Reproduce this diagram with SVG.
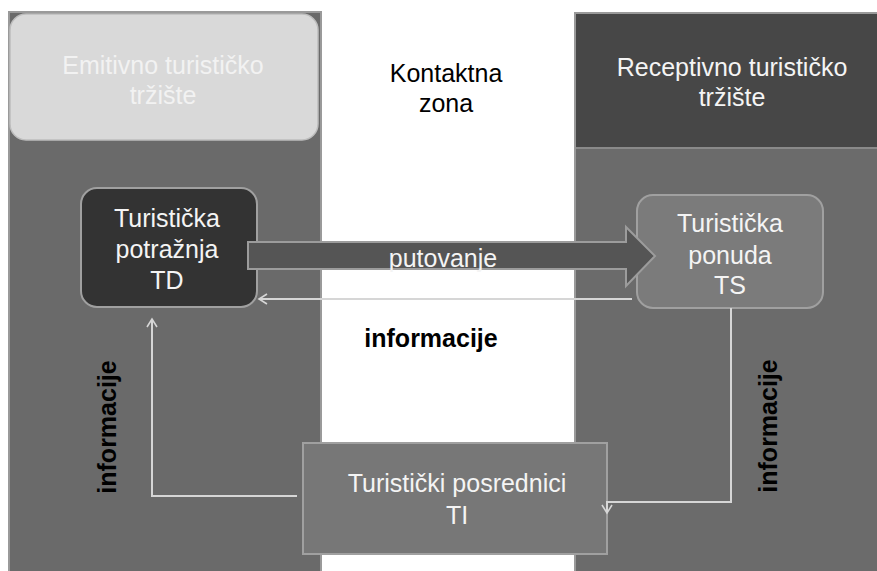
<svg xmlns="http://www.w3.org/2000/svg" width="877" height="571" viewBox="0 0 877 571">
<defs>
<marker id="chev" markerWidth="12" markerHeight="12" refX="10" refY="6" orient="auto" markerUnits="userSpaceOnUse">
<path d="M2,1 L10,6 L2,11" fill="none" stroke="#d6d6d6" stroke-width="1.6"/>
</marker>
<style>
.t{font-family:"Liberation Sans",Arial,sans-serif;font-size:25px;text-anchor:middle}
.w{fill:#f4f4f4}
.b{fill:#000000;font-weight:bold}
.conn{fill:none;stroke:#d6d6d6;stroke-width:2}
.box{stroke:#a0a0a0;stroke-width:2}
</style>
</defs>
<rect width="877" height="571" fill="#ffffff"/>
<g id="left-panel">
<rect x="9" y="12" width="312" height="560" fill="#6a6a6a" stroke="#9a9a9a" stroke-width="2"/>
</g>
<g id="right-panel">
<rect x="575" y="13" width="303" height="560" fill="#6b6b6b" stroke="#9a9a9a" stroke-width="2"/>
<rect x="576" y="14" width="302" height="133" fill="#474747"/>
<line x1="576" y1="148" x2="877" y2="148" stroke="#8a8a8a" stroke-width="2"/>
<text class="t w" x="732" y="76">Receptivno turističko</text>
<text class="t w" x="732" y="106">tržište</text>
</g>
<g id="emitivno">
<rect x="10" y="14" width="308" height="126" rx="16" fill="#d9d9d9" stroke="#bdbdbd" stroke-width="1.5"/>
<text class="t" x="163" y="74" fill="#f2f2f2">Emitivno turističko</text>
<text class="t" x="163" y="104" fill="#f2f2f2">tržište</text>
</g>
<g id="kontaktna">
<text class="t" x="446" y="82" fill="#000">Kontaktna</text>
<text class="t" x="446" y="112" fill="#000">zona</text>
</g>
<g id="td">
<rect x="81" y="188" width="176" height="119" rx="16" fill="#333333" class="box"/>
<text class="t w" x="167" y="227">Turistička</text>
<text class="t w" x="167" y="258">potražnja</text>
<text class="t w" x="167" y="289">TD</text>
</g>
<g id="ts">
<rect x="637" y="195" width="186" height="113" rx="16" fill="#7b7b7b" class="box"/>
<text class="t w" x="730" y="232">Turistička</text>
<text class="t w" x="730" y="264">ponuda</text>
<text class="t w" x="730" y="294">TS</text>
</g>
<g id="ti">
<rect x="303" y="443" width="304" height="111" fill="#777777" class="box"/>
<text class="t w" x="457" y="492">Turistički posrednici</text>
<text class="t w" x="457" y="524">TI</text>
</g>
<g id="connectors">
<path d="M248,242 L626,242 L626,227 L655,256 L626,286 L626,269 L248,269 Z" fill="#555555" stroke="#9c9c9c" stroke-width="2"/>
<line class="conn" x1="632" y1="299" x2="259" y2="299" marker-end="url(#chev)"/>
<polyline class="conn" points="297,496 152,496 152,319" marker-end="url(#chev)"/>
<polyline class="conn" points="731,308 731,502 607,502 607,513" marker-end="url(#chev)"/>
</g>
<g id="labels">
<text class="t w" x="443" y="267">putovanje</text>
<text class="t b" x="431" y="347">informacije</text>
<text class="t b" transform="translate(116,427) rotate(-90)" x="0" y="0">informacije</text>
<text class="t b" transform="translate(777,426) rotate(-90)" x="0" y="0">informacije</text>
</g>
</svg>
